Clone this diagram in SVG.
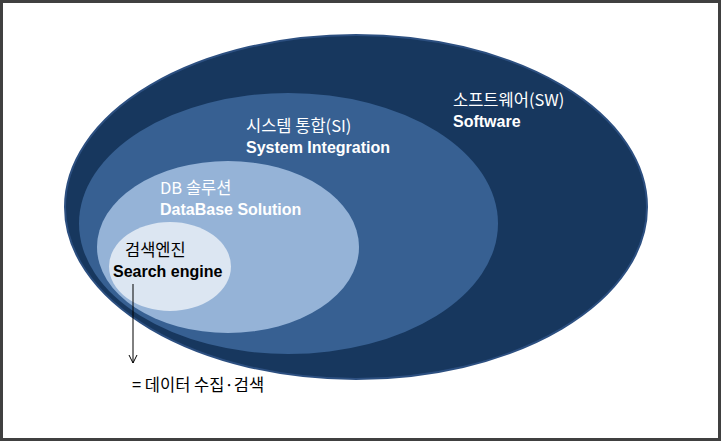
<svg xmlns="http://www.w3.org/2000/svg" width="721" height="441" viewBox="0 0 721 441">
<style>
.ko{font-family:"Noto Sans CJK KR","Noto Sans",sans-serif;font-size:16.5px;}
.en{font-family:"Liberation Sans","Noto Sans CJK KR",sans-serif;font-size:16px;font-weight:bold;}
.w{fill:#ffffff;}
.k{fill:#000000;}
</style>
<defs>
<marker id="arr" markerWidth="12" markerHeight="12" refX="9" refY="5" orient="auto" markerUnits="userSpaceOnUse">
<path d="M1,1 L9,5 L1,9" fill="none" stroke="#000" stroke-width="1"/>
</marker>
</defs>
<rect x="1.5" y="1.5" width="718" height="438" fill="#ffffff" stroke="#404040" stroke-width="3"/>
<g id="sw">
<ellipse cx="356" cy="207" rx="291" ry="172" fill="#17375e" stroke="#2c4f80" stroke-width="2"/>
<text class="ko w" x="453" y="105.5">소프트웨어(SW)</text>
<text class="en w" x="453" y="126.5">Software</text>
</g>
<g id="si">
<ellipse cx="288.5" cy="223.5" rx="209.5" ry="130.5" fill="#376092"/>
<text class="ko w" x="246" y="131.5">시스템 통합(SI)</text>
<text class="en w" x="246" y="152.5">System Integration</text>
</g>
<g id="db">
<ellipse cx="228" cy="247" rx="131" ry="86" fill="#95b3d7"/>
<text class="ko w" x="160" y="193.5">DB 솔루션</text>
<text class="en w" x="160" y="214.5">DataBase Solution</text>
</g>
<g id="search">
<ellipse cx="170" cy="266.5" rx="61" ry="44.5" fill="#dce6f2"/>
<text class="ko k" x="125" y="255.5">검색엔진</text>
<text class="en k" x="113" y="276.5">Search engine</text>
</g>
<g id="connectors">
<line x1="133" y1="284" x2="133" y2="363" stroke="#000" stroke-width="1" marker-end="url(#arr)"/>
</g>
<g id="note">
<text class="ko k" x="132" y="391" font-size="16">= 데이터 수집·검색</text>
</g>
</svg>
